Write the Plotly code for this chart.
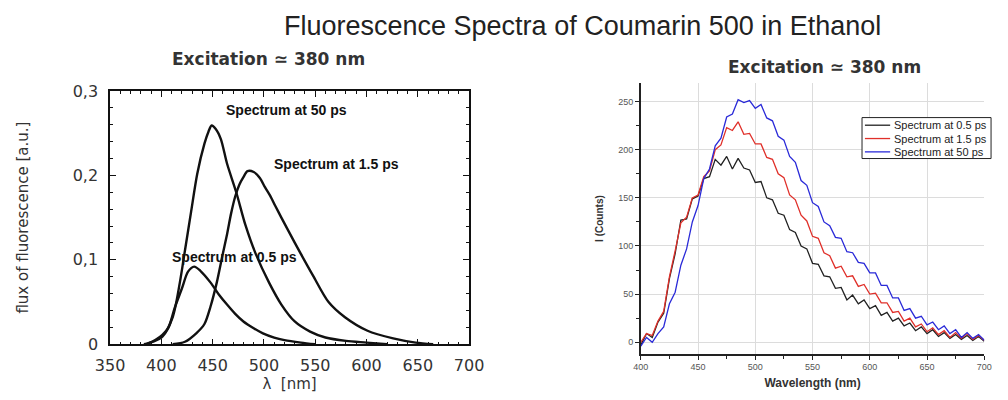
import plotly.graph_objects as go

# ---------------- Left panel data ----------------
l_x_50 = [383, 392, 401, 411, 418, 423, 429, 435, 442, 446, 449, 453, 458, 464, 473, 482,
          492, 505, 517, 530, 545, 560, 580, 600, 620]
l_y_50 = [0.0, 0.003, 0.009, 0.032, 0.073, 0.111, 0.157, 0.202, 0.2375, 0.252, 0.259, 0.255,
          0.243, 0.214, 0.18, 0.141, 0.107, 0.073, 0.047, 0.027, 0.015, 0.008, 0.004, 0.002, 0.0]

l_x_15 = [411, 423, 434, 442, 448, 454, 459, 464, 468, 472, 476, 480, 484, 490, 496, 501,
          506, 511, 517, 524, 536, 548, 563, 579, 601, 626, 648, 665]
l_y_15 = [0.0, 0.003, 0.013, 0.024, 0.045, 0.073, 0.102, 0.13, 0.155, 0.175, 0.189, 0.198,
          0.205, 0.204, 0.197, 0.186, 0.176, 0.164, 0.15, 0.134, 0.107, 0.081, 0.05, 0.032,
          0.016, 0.007, 0.002, 0.0]

l_x_05 = [385, 394, 401, 407, 413, 420, 426, 432, 438, 448, 456, 464, 472, 480, 490, 499,
          510, 520, 536, 550]
l_y_05 = [0.0, 0.005, 0.011, 0.02, 0.043, 0.066, 0.086, 0.092, 0.087, 0.073, 0.059, 0.047,
          0.036, 0.027, 0.019, 0.013, 0.008, 0.005, 0.002, 0.0]

# ---------------- Right panel data (noisy traces) ----------------
r_x = list(range(400, 701, 5))
r_y_05 = [-3, 9, 5, 21, 30, 66, 92, 127, 128, 149, 152, 170, 172, 190, 184, 193, 180, 191,
          181, 179, 166, 167, 150, 148, 134, 132, 117, 114, 100, 97, 82, 81, 69, 68, 56, 57,
          44, 49, 40, 44, 35, 38, 28, 31, 22, 25, 17, 20, 12, 16, 9, 13, 6, 10, 4, 8, 3, 7,
          2, 6, 1]
r_y_15 = [0, 9, 7, 22, 32, 68, 95, 124, 130, 150, 153, 172, 178, 200, 205, 223, 220, 229,
          216, 217, 206, 206, 192, 190, 175, 171, 153, 148, 132, 126, 110, 108, 93, 90, 77,
          79, 68, 69, 58, 60, 50, 51, 41, 41, 31, 32, 22, 25, 16, 19, 11, 15, 8, 12, 5, 10,
          4, 9, 3, 7, 2]
r_y_50 = [-4, 5, 0, 9, 16, 40, 52, 80, 97, 125, 142, 170, 180, 204, 212, 234, 237, 252, 249,
          251, 243, 247, 233, 230, 214, 210, 193, 187, 168, 163, 145, 141, 125, 121, 109, 108,
          94, 93, 83, 82, 72, 72, 59, 59, 46, 46, 33, 35, 25, 27, 18, 21, 13, 17, 9, 13, 5,
          10, 4, 8, 2]

series_names = ["Spectrum at 0.5 ps", "Spectrum at 1.5 ps", "Spectrum at 50 ps"]
series_colors = ["#222222", "#e0302a", "#2a2ad8"]

left_xticks = [350, 400, 450, 500, 550, 600, 650, 700]
left_yticks = [0, 0.1, 0.2, 0.3]
left_yticklabels = ["0", "0,1", "0,2", "0,3"]
right_xticks = [400, 450, 500, 550, 600, 650, 700]
right_yticks = [0, 50, 100, 150, 200, 250]

W, H = 1008, 400

fig = go.Figure()

for xs, ys in [(l_x_50, l_y_50), (l_x_15, l_y_15), (l_x_05, l_y_05)]:
    fig.add_trace(go.Scatter(x=xs, y=ys, mode="lines",
                             line=dict(color="#111", width=2.4, shape="spline", smoothing=0.8),
                             xaxis="x", yaxis="y", showlegend=False, hoverinfo="skip"))

for ys, col, name in zip([r_y_05, r_y_15, r_y_50], series_colors, series_names):
    fig.add_trace(go.Scatter(x=r_x, y=ys, mode="lines", line=dict(color=col, width=1.3),
                             xaxis="x2", yaxis="y2", name=name, showlegend=False))

lfont = dict(family="DejaVu Sans", size=16, color="#333")
fig.update_layout(
    width=W, height=H,
    margin=dict(l=0, r=0, t=0, b=0),
    paper_bgcolor="white", plot_bgcolor="white",
    showlegend=False,
    xaxis=dict(domain=[98 / W, 468 / W], range=[350, 700], tickvals=left_xticks,
               showline=True, linecolor="#111", linewidth=1.5, mirror="allticks",
               ticks="inside", ticklen=6, tickcolor="#111", ticklabelstandoff=6,
               minor=dict(ticks="inside", ticklen=3, dtick=10, tickcolor="#111"),
               showgrid=False, zeroline=False, tickfont=lfont,
               title=dict(text="λ  [nm]", font=dict(family="DejaVu Sans", size=15, color="#333"), standoff=2)),
    yaxis=dict(domain=[1 - 352 / H, 1 - 86 / H], range=[0, 0.3], tickvals=left_yticks,
               ticktext=left_yticklabels,
               showline=True, linecolor="#111", linewidth=1.5, mirror="allticks",
               ticks="inside", ticklen=6, tickcolor="#111", ticklabelstandoff=7,
               minor=dict(ticks="inside", ticklen=3, dtick=0.02, tickcolor="#111"),
               showgrid=False, zeroline=False, tickfont=lfont,
               title=dict(text="flux of fluorescence [a.u.]", font=dict(family="DejaVu Sans", size=15, color="#333"), standoff=40)),
    xaxis2=dict(domain=[645 / W, 999 / W], range=[400, 700], tickvals=right_xticks, anchor="y2",
                showline=True, linecolor="#222", linewidth=1.5,
                ticks="outside", ticklen=4, tickcolor="#222",
                minor=dict(ticks="outside", ticklen=3, dtick=25, tickcolor="#222"),
                showgrid=True, gridcolor="#dcdcdc", gridwidth=1, zeroline=False,
                tickfont=dict(family="Liberation Sans", size=9, color="#555"),
                title=dict(text="<b>Wavelength (nm)</b>", font=dict(family="Liberation Sans", size=12, color="#333"), standoff=7)),
    yaxis2=dict(domain=[1 - 362 / H, 1 - 78 / H], range=[-12, 269], tickvals=right_yticks, anchor="x2",
                showline=True, linecolor="#222", linewidth=1.5,
                ticks="outside", ticklen=4, tickcolor="#222",
                minor=dict(ticks="outside", ticklen=3, dtick=25, tickcolor="#222"),
                showgrid=True, gridcolor="#dcdcdc", gridwidth=1, zeroline=False,
                tickfont=dict(family="Liberation Sans", size=9, color="#555"),
                title=dict(text="<b>I (Counts)</b>", font=dict(family="Liberation Sans", size=10, color="#333"), standoff=13)),
)

anns = [
    dict(text="Fluorescence Spectra of Coumarin 500 in Ethanol", x=585 / W, y=1 - 18 / H,
         font=dict(family="Liberation Sans", size=27, color="#222")),
    dict(text="<b>Excitation ≃ 380 nm</b>", x=261 / W, y=1 - 53 / H,
         font=dict(family="DejaVu Sans", size=17, color="#333")),
    dict(text="<b>Excitation ≃ 380 nm</b>", x=834 / W, y=1 - 61 / H,
         font=dict(family="DejaVu Sans", size=17, color="#333")),
    dict(text="<b>Spectrum at 50 ps</b>", x=280 / W, y=1 - 106 / H,
         font=dict(family="Liberation Sans", size=14, color="#111")),
    dict(text="<b>Spectrum at 1.5 ps</b>", x=331 / W, y=1 - 163 / H,
         font=dict(family="Liberation Sans", size=14, color="#111")),
    dict(text="<b>Spectrum at 0.5 ps</b>", x=226 / W, y=1 - 260 / H,
         font=dict(family="Liberation Sans", size=14, color="#111")),
]
for a in anns:
    fig.add_annotation(xref="paper", yref="paper", showarrow=False, xanchor="center", yanchor="middle", **a)

# Legend box for the right panel (drawn to match the compact original legend)
lg_left, lg_right, lg_top, lg_bottom = 873, 1006, 114, 157
fig.add_shape(type="rect", xref="paper", yref="paper",
              x0=lg_left / W, x1=lg_right / W, y0=1 - lg_bottom / H, y1=1 - lg_top / H,
              line=dict(color="#222", width=1), fillcolor="white", layer="above")
for i, (name, col) in enumerate(zip(series_names, series_colors)):
    yrow = lg_top + 8 + i * 14
    fig.add_shape(type="line", xref="paper", yref="paper",
                  x0=(lg_left + 3) / W, x1=(lg_left + 29) / W, y0=1 - yrow / H, y1=1 - yrow / H,
                  line=dict(color=col, width=1.3), layer="above")
    fig.add_annotation(xref="paper", yref="paper", showarrow=False, xanchor="left", yanchor="middle",
                       x=(lg_left + 31) / W, y=1 - yrow / H, text=name,
                       font=dict(family="Liberation Sans", size=11, color="#222"))

fig.write_html("out.html")
